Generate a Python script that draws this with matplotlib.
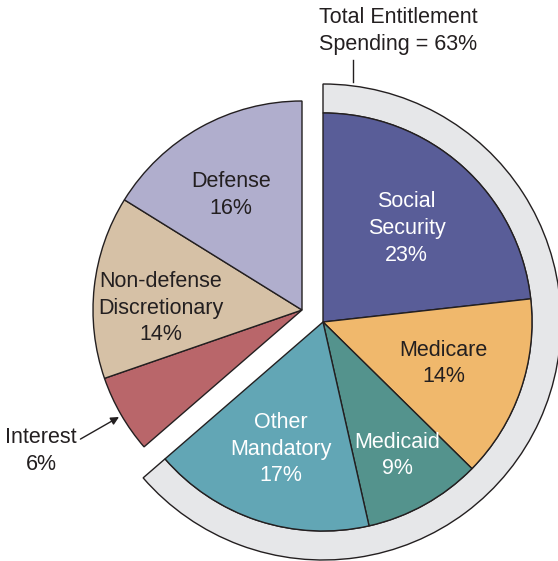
import matplotlib.pyplot as plt
import numpy as np
from matplotlib.patches import Wedge

labels = ["Social\nSecurity\n23%", "Medicare\n14%", "Medicaid\n9%", "Other\nMandatory\n17%",
          "Interest\n6%", "Non-defense\nDiscretionary\n14%", "Defense\n16%"]
values = [23, 14, 9, 17, 6, 14, 16]
colors = ["#595d98", "#f0b86c", "#54938d", "#62a6b5", "#b9666a", "#d6c1a6", "#b0aecd"]
entitlement = [True, True, True, True, False, False, False]
text_colors = ["white", "#231f20", "white", "white", "#231f20", "#231f20", "#231f20"]
# label placement: fraction of radius and angle shift from slice middle
label_r = [0.60, 0.61, 0.73, 0.64, None, 0.675, 0.645]
label_shift = [0, 0, 0, 0, 0, 5.6, 2.6]

plt.rcParams['font.family'] = ['Liberation Sans', 'DejaVu Sans']
fig = plt.figure(figsize=(5.58, 5.61), dpi=100)
ax = fig.add_axes([0, 0, 1, 1])

R = 209
c_main = (323, 239)
c_expl = (302, 251)
edge = "#231f20"
fs = 15.5
ls = 1.35

w_main, _ = ax.pie(values, colors=colors, startangle=90, counterclock=False, radius=R,
                   center=c_main, wedgeprops=dict(edgecolor=edge, linewidth=1.0))
w_expl, _ = ax.pie(values, colors=colors, startangle=90, counterclock=False, radius=R,
                   center=c_expl, wedgeprops=dict(edgecolor=edge, linewidth=1.0))
for i, ent in enumerate(entitlement):
    w_main[i].set_visible(ent)
    w_expl[i].set_visible(not ent)

# grey ring around the entitlement slices
t_start = min(w.theta1 for w, e in zip(w_main, entitlement) if e)
t_end = max(w.theta2 for w, e in zip(w_main, entitlement) if e)
ring = Wedge(c_main, 238, t_start, t_end, width=238 - R, facecolor="#e6e7e9",
             edgecolor=edge, linewidth=1.0, zorder=0.5)
ax.add_patch(ring)

for i, w in enumerate(w_main):
    if label_r[i] is None:
        continue
    ctr = c_main if entitlement[i] else c_expl
    mid = np.deg2rad((w.theta1 + w.theta2) / 2 + label_shift[i])
    x = ctr[0] + label_r[i] * R * np.cos(mid)
    y = ctr[1] + label_r[i] * R * np.sin(mid)
    ax.text(x, y, labels[i], ha="center", va="center", color=text_colors[i],
            fontsize=fs, linespacing=ls)

ax.annotate(labels[4], xy=(119, 144), xytext=(41, 110), ha="center", va="center",
            fontsize=fs, color="#231f20", linespacing=ls,
            arrowprops=dict(arrowstyle="-|>", color="#231f20", lw=1.0,
                            shrinkA=0, shrinkB=0, mutation_scale=12,
                            relpos=(1.05, 0.75)))

ax.plot([353, 353], [479, 501], color=edge, lw=1.0)
ax.text(398, 530, "Total Entitlement\nSpending = 63%", ha="center", va="center",
        fontsize=fs, color="#231f20", linespacing=ls)

ax.set_xlim(0, 558)
ax.set_ylim(0, 561)
ax.set_aspect("equal")
ax.set_axis_off()
fig.savefig("out.png", dpi=100)
